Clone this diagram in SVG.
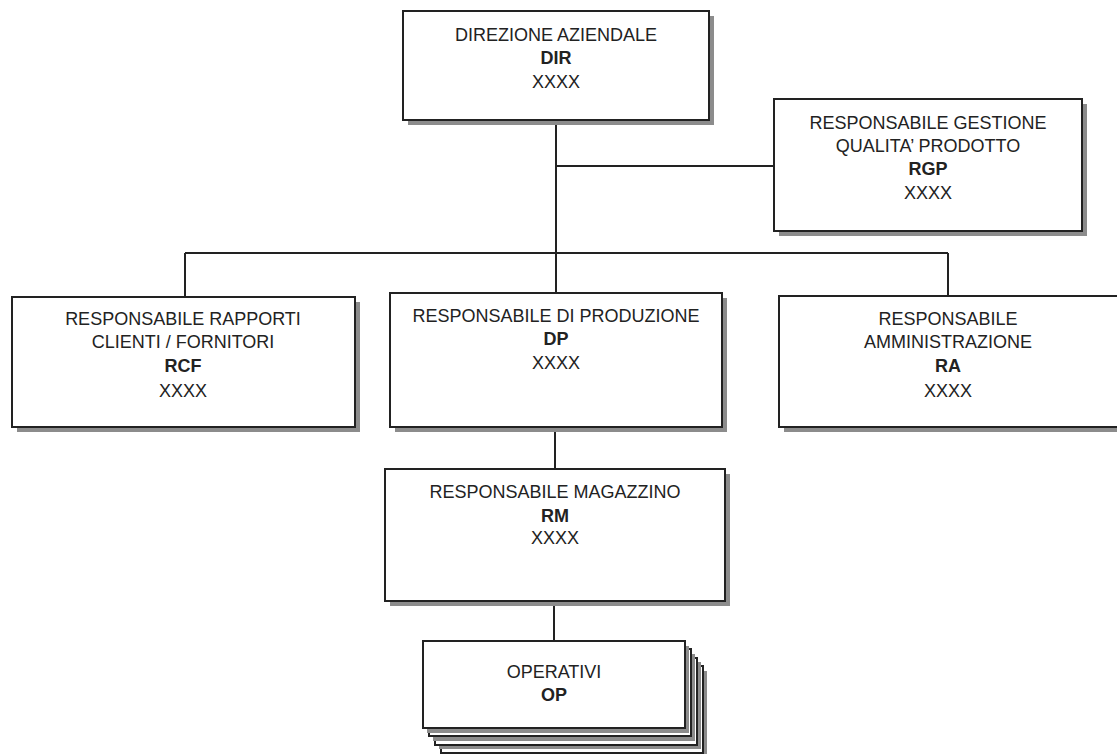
<svg xmlns="http://www.w3.org/2000/svg" width="1117" height="754" viewBox="0 0 1117 754">
<style>
.box{fill:#fff;stroke:#222;stroke-width:2}
.sh{fill:#8c8c8c}
.t{font-family:"Liberation Sans",Arial,sans-serif;font-size:18px;fill:#222;text-anchor:middle}
.b{font-weight:bold}
.ln{stroke:#222;stroke-width:2;fill:none}
</style>
<rect width="1117" height="754" fill="#fff"/>
<g id="connectors">
<line class="ln" x1="556" y1="120" x2="556" y2="293"/>
<line class="ln" x1="556" y1="166" x2="774" y2="166"/>
<line class="ln" x1="185" y1="253" x2="948" y2="253"/>
<line class="ln" x1="185" y1="253" x2="185" y2="297"/>
<line class="ln" x1="948" y1="253" x2="948" y2="296"/>
<line class="ln" x1="555" y1="427" x2="555" y2="469"/>
<line class="ln" x1="554" y1="601" x2="554" y2="641"/>
</g>
<g id="DIR">
<rect class="sh" x="408" y="16" width="306" height="109"/>
<rect class="box" x="403" y="11" width="306" height="109"/>
<text class="t" x="556" y="41">DIREZIONE AZIENDALE</text>
<text class="t b" x="556" y="64">DIR</text>
<text class="t" x="556" y="88">XXXX</text>
</g>
<g id="RGP">
<rect class="sh" x="779" y="104" width="308" height="132"/>
<rect class="box" x="774" y="99" width="308" height="132"/>
<text class="t" x="928" y="129">RESPONSABILE GESTIONE</text>
<text class="t" x="928" y="152">QUALITA’ PRODOTTO</text>
<text class="t b" x="928" y="175">RGP</text>
<text class="t" x="928" y="199">XXXX</text>
</g>
<g id="RCF">
<rect class="sh" x="17" y="302" width="343" height="130"/>
<rect class="box" x="12" y="297" width="343" height="130"/>
<text class="t" x="183" y="325">RESPONSABILE RAPPORTI</text>
<text class="t" x="183" y="348">CLIENTI / FORNITORI</text>
<text class="t b" x="183" y="372">RCF</text>
<text class="t" x="183" y="397">XXXX</text>
</g>
<g id="DP">
<rect class="sh" x="395" y="298" width="332" height="134"/>
<rect class="box" x="390" y="293" width="332" height="134"/>
<text class="t" x="556" y="322">RESPONSABILE DI PRODUZIONE</text>
<text class="t b" x="556" y="345">DP</text>
<text class="t" x="556" y="369">XXXX</text>
</g>
<g id="RA">
<rect class="sh" x="784" y="301" width="340" height="131"/>
<rect class="box" x="779" y="296" width="340" height="131"/>
<text class="t" x="948" y="325">RESPONSABILE</text>
<text class="t" x="948" y="348">AMMINISTRAZIONE</text>
<text class="t b" x="948" y="372">RA</text>
<text class="t" x="948" y="397">XXXX</text>
</g>
<g id="RM">
<rect class="sh" x="390" y="474" width="340" height="132"/>
<rect class="box" x="385" y="469" width="340" height="132"/>
<text class="t" x="555" y="498">RESPONSABILE MAGAZZINO</text>
<text class="t b" x="555" y="522">RM</text>
<text class="t" x="555" y="544">XXXX</text>
</g>
<g id="OP">
<rect class="sh" x="445" y="671" width="262" height="87"/>
<rect class="box" x="441" y="666" width="262" height="87"/>
<rect class="sh" x="439" y="662" width="262" height="87"/>
<rect class="box" x="435" y="658" width="262" height="87"/>
<rect class="sh" x="433" y="654" width="262" height="87"/>
<rect class="box" x="429" y="649" width="262" height="87"/>
<rect class="sh" x="427" y="646" width="262" height="87"/>
<rect class="box" x="423" y="641" width="262" height="87"/>
<text class="t" x="554" y="678">OPERATIVI</text>
<text class="t b" x="554" y="701">OP</text>
</g>
</svg>
